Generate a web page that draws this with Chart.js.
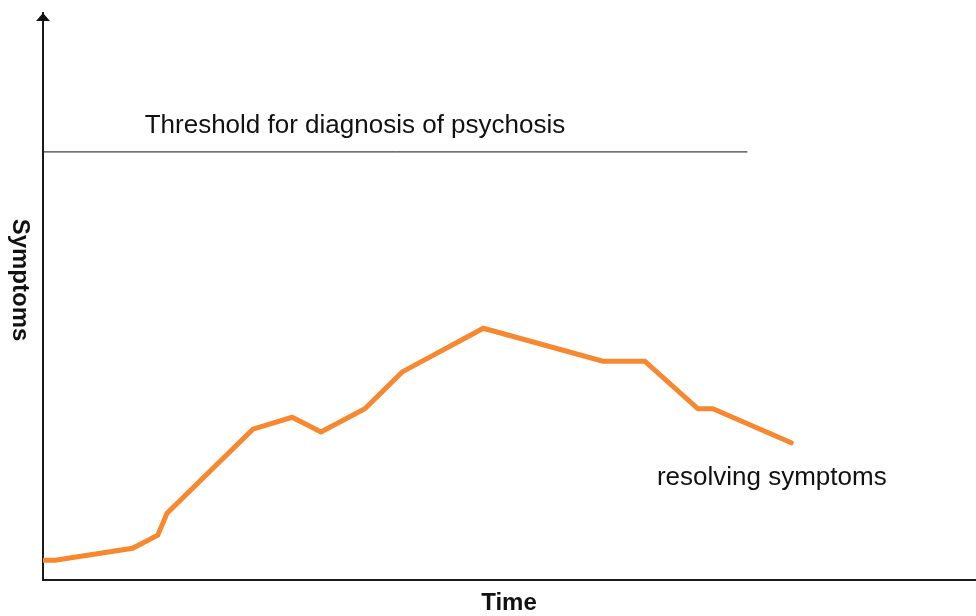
<!DOCTYPE html>
<html>
<head>
<meta charset="utf-8">
<script src="https://cdn.jsdelivr.net/npm/chart.js@4.4.1/dist/chart.umd.min.js"></script>
<style>
  html, body { margin: 0; padding: 0; background: #fff; }
  #wrap { width: 976px; height: 616px; }
</style>
</head>
<body>
<div id="wrap"><canvas id="grafico" width="976" height="616"></canvas></div>
<script>
// Datos (tiempo y sintomas en unidades arbitrarias 0-100)
const tiempo = [0, 1.3, 9.6, 12.3, 13.3, 22.5, 26.7, 29.8, 34.5, 38.5, 47.2, 60.0, 64.5, 70.2, 71.8, 80.2];
const sintomas = [3.5, 3.5, 5.6, 7.9, 11.8, 26.6, 28.7, 26.1, 30.2, 36.7, 44.4, 38.6, 38.6, 30.2, 30.2, 24.2];

const umbralX = [0, 75.5];
const umbralY = [75.5, 75.5];

const textos = {
    umbral: 'Threshold for diagnosis of psychosis',
    resolucion: 'resolving symptoms',
    ejeX: 'Time',
    ejeY: 'Symptoms'
};

// Dibuja la flecha del eje y los textos sobre el grafico
const etiquetasPlugin = {
    id: 'etiquetas',
    afterDraw(chart) {
        const ctx = chart.ctx;
        const x = chart.scales.x;
        const y = chart.scales.y;
        const area = chart.chartArea;
        ctx.save();

        // flecha en la punta del eje y
        ctx.fillStyle = '#111';
        ctx.beginPath();
        ctx.moveTo(area.left, area.top);
        ctx.lineTo(area.left - 7, area.top + 8);
        ctx.lineTo(area.left + 7, area.top + 8);
        ctx.closePath();
        ctx.fill();

        ctx.fillStyle = '#111';
        ctx.font = '26px "Liberation Sans", Arial, sans-serif';
        ctx.textAlign = 'left';
        ctx.textBaseline = 'alphabetic';
        ctx.fillText(textos.umbral, x.getPixelForValue(10.9), y.getPixelForValue(78.8));
        ctx.fillText(textos.resolucion, x.getPixelForValue(65.8), y.getPixelForValue(16.8));

        // titulos de los ejes
        ctx.font = 'bold 24px "Liberation Sans", Arial, sans-serif';
        ctx.textAlign = 'center';
        ctx.fillText(textos.ejeX, 509, 610);

        ctx.translate(13, 280);
        ctx.rotate(Math.PI / 2);
        ctx.fillText(textos.ejeY, 0, 0);
        ctx.restore();
    }
};

const ctx = document.getElementById('grafico').getContext('2d');

new Chart(ctx, {
    type: 'line',
    data: {
        datasets: [{
            label: 'Sintomas',
            data: tiempo.map((t, i) => ({x: t, y: sintomas[i]})),
            borderColor: '#F7882F',
            borderWidth: 5,
            borderCapStyle: 'round',
            borderJoinStyle: 'miter',
            pointRadius: 0,
            fill: false,
            tension: 0
        }, {
            label: 'Umbral',
            data: umbralX.map((t, i) => ({x: t, y: umbralY[i]})),
            borderColor: '#111',
            borderWidth: 1,
            pointRadius: 0,
            fill: false
        }]
    },
    options: {
        responsive: false,
        animation: false,
        layout: { padding: { top: 13, right: 0, left: 0, bottom: 0 } },
        plugins: {
            legend: { display: false },
            tooltip: { enabled: false }
        },
        scales: {
            x: {
                type: 'linear',
                min: 0,
                max: 100,
                ticks: { display: false },
                grid: { display: false },
                border: { display: true, color: '#1a1a1a', width: 2 },
                afterFit(scale) { scale.height = 36; }
            },
            y: {
                min: 0,
                max: 100,
                ticks: { display: false },
                grid: { display: false },
                border: { display: true, color: '#1a1a1a', width: 2 },
                afterFit(scale) { scale.width = 43; }
            }
        }
    },
    plugins: [etiquetasPlugin]
});
</script>
</body>
</html>
